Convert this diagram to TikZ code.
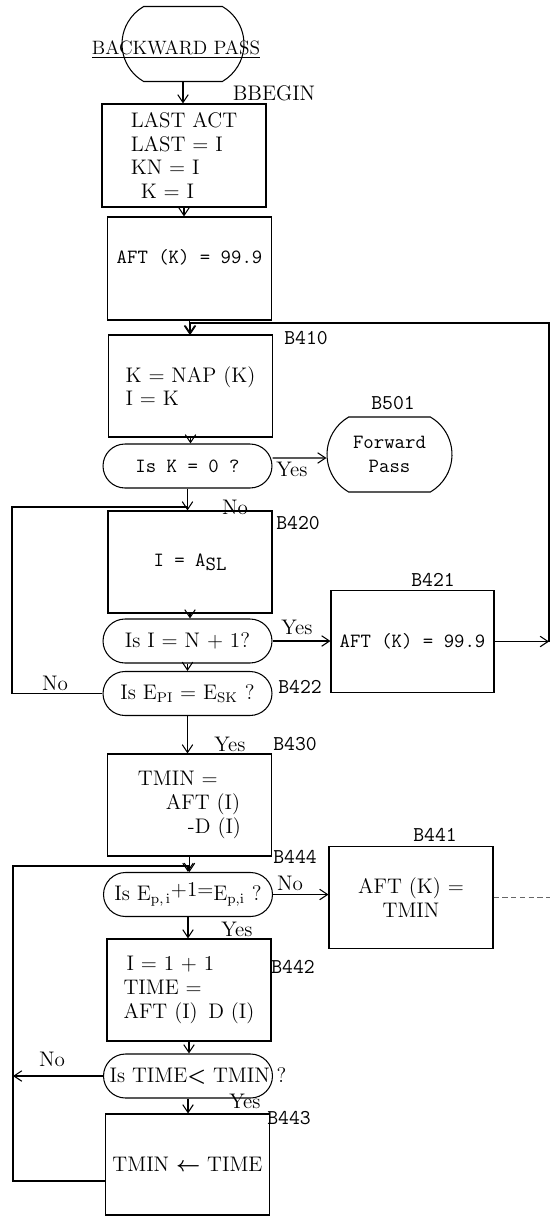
\documentclass[tikz,border=0pt]{standalone}
\usepackage{tikz}
\usepackage{amsmath}
\usetikzlibrary{positioning, calc, arrows.meta, shapes.misc}

\begin{document}
\begin{tikzpicture}[
  x=0.02cm, y=-0.02cm,
  font=\fontsize{12}{13.5}\selectfont,
  >={Straight Barb[length=4.5pt,width=6pt]},
  line width=0.6pt,
  procBox/.style={draw=black, rectangle, minimum width=3.28cm,
                  minimum height=2.04cm, inner sep=0pt},
  decBox/.style={draw=black, rectangle, rounded corners=0.44cm,
                 minimum width=3.38cm, minimum height=0.88cm, inner sep=0pt},
  termBox/.style={draw=black, rounded rectangle,
                  rounded rectangle arc length=120, inner sep=0pt},
  tagLbl/.style={font=\ttfamily\fontsize{12}{14}\selectfont, inner sep=0pt},
  ynLbl/.style={inner sep=0pt},
  codeTxt/.style={font=\ttfamily\fontsize{11.5}{14}\selectfont},
]
\useasboundingbox (0,0) rectangle (550,1217);

% ---------- start ----------
\node[termBox, minimum width=2.44cm, minimum height=1.5cm] (bpTerm) at (183,44) {};
\node[inner sep=0pt, font=\fontsize{11}{13}\selectfont] (bpTitle) at (176,50)
  {\underline{BACKWARD PASS}};

\node[procBox, minimum height=2.06cm, align=left] (bbeginBox) at (184,155.5)
  {LAST ACT\\LAST = I\\KN = I\\\hspace{0.2cm}K = I};
\node[ynLbl] (bbeginLbl) at (274,93) {BBEGIN};
\draw[->] (bpTerm.south) -- (bpTerm.south |- bbeginBox.north);

\node[procBox, minimum height=2.06cm, codeTxt] (aftBox) at (189.5,268.5)
  {\raisebox{0.23cm}[\height][\depth]{AFT (K) = 99.9}};
\draw[->] (bbeginBox.south) -- (bbeginBox.south |- aftBox.north);

% ---------- B410 ----------
\node[procBox, align=left] (b410Box) at (190.5,386) {K = NAP (K)\\I = K};
\node[tagLbl] (b410Lbl) at (306,338) {B410};
\draw[->] (aftBox.south) -- (aftBox.south |- b410Box.north);

\node[decBox, codeTxt] (k0Dec) at (187.5,466) {Is K = 0 ?};
\draw[->] (b410Box.south) -- (b410Box.south |- k0Dec.north);

% ---------- B501 ----------
\node[termBox, minimum width=2.5cm, minimum height=1.5cm, codeTxt, align=center]
  (fwdTerm) at (389.5,454.5) {Forward\\Pass};
\node[tagLbl] (b501Lbl) at (393,403) {B501};
\draw[->] ($(k0Dec.east)+(0,-8)$) -- ($(fwdTerm.west)+(0,3.5)$);
\node[ynLbl] (k0Yes) at (292,469) {Yes};

% ---------- B420 ----------
\node[procBox, codeTxt] (b420Box) at (190,562) {I = A\raisebox{-0.5ex}{SL}};
\node[tagLbl] (b420Lbl) at (298,523) {B420};
\draw[->] (k0Dec.south) -- (k0Dec.south |- b420Box.north);
\node[ynLbl] (k0No) at (235,507) {No};

\node[decBox] (n1Dec) at (187.5,641) {Is I = N + 1?};
\draw[->] (b420Box.south) -- (b420Box.south |- n1Dec.north);

% ---------- B421 ----------
\node[procBox, minimum width=3.26cm, codeTxt] (b421Box) at (412.5,641.5)
  {AFT (K) = 99.9};
\node[tagLbl] (b421Lbl) at (433,580) {B421};
\draw[->] (n1Dec.east) -- (n1Dec.east -| b421Box.west);
\node[ynLbl] (n1Yes) at (297,627) {Yes};

\coordinate (loopR) at (549,641.5);
\coordinate (loopTop) at (549,323);
\draw[->] (b421Box.east) -- (loopR);
\draw[->] (loopR) -- (loopTop) -| (b410Box.north);

% ---------- B422 ----------
\node[decBox] (epDec) at (187.5,693.5)
  {Is E$_{\mathrm{PI}}$ = E$_{\mathrm{SK}}$ ?};
\node[tagLbl] (b422Lbl) at (300,687) {B422};
\draw[->] (n1Dec.south) -- (epDec.north);

\coordinate (noL) at (12,507);
\draw (epDec.west) -| (noL) -- (noL -| k0Dec.south);
\node[ynLbl] (epNo) at (55,683) {No};

% ---------- B430 ----------
\node[procBox, align=left] (b430Box) at (189.5,805)
  {TMIN =\\\hspace{0.56cm}AFT (I)\\\hspace{1.0cm}-D (I)};
\node[tagLbl] (b430Lbl) at (295,744) {B430};
\draw[->] (epDec.south) -- (epDec.south |- b430Box.north);
\node[ynLbl] (epYes) at (230,744) {Yes};

% ---------- B444 ----------
\node[decBox, inner xsep=-0.3cm] (eqDec) at (188,894.5)
  {Is E$_{\mathrm{p,\,i}}$\raisebox{0.35ex}{+1=}E$_{\mathrm{p,i}}$ ?};
\node[tagLbl] (b444Lbl) at (295,857) {B444};
\draw[->] (b430Box.south) -- (b430Box.south |- eqDec.north);

% ---------- B441 ----------
\node[procBox, align=center] (b441Box) at (411,897.5) {AFT (K) =\\TMIN};
\node[tagLbl] (b441Lbl) at (435,835) {B441};
\draw[->] (eqDec.east) -- (eqDec.east -| b441Box.west);
\node[ynLbl] (eqNo) at (290,883) {No};
\coordinate (b441Out) at (550,897.5);
\draw[black!60, densely dashed, line width=0.4pt] (b441Box.east) -- (b441Out);

% ---------- B442 ----------
\node[procBox, align=left] (b442Box) at (189,990)
  {\hspace{0.06cm}I = 1 + 1\\TIME =\\AFT (I)\enspace D (I)};
\node[tagLbl] (b442Lbl) at (293,967) {B442};
\draw[->] (eqDec.south) -- (eqDec.south |- b442Box.north);
\node[ynLbl] (eqYes) at (237,929) {Yes};

\node[decBox, inner xsep=-0.3cm] (timeDec) at (188,1076)
  {\hspace{0.4cm}Is TIME$\boldsymbol{<}$ TMIN ?};
\draw[->] (b442Box.south) -- (b442Box.south |- timeDec.north);

% ---------- B443 ----------
\node[procBox, minimum height=2.02cm] (b443Box) at (187.5,1164.5)
  {TMIN $\boldsymbol{\leftarrow}$ TIME};
\node[tagLbl] (b443Lbl) at (289,1118) {B443};
\draw[->] (timeDec.south) -- (timeDec.south |- b443Box.north);
\node[ynLbl] (timeYes) at (245,1101) {Yes};

\coordinate (retL) at (13,1181);
\coordinate (retT) at (13,866);
\draw[->] (timeDec.west) -- (timeDec.west -| retL);
\node[ynLbl] (timeNo) at (52,1059) {No};
\draw[->] (b443Box.west |- retL) -- (retL) -- (retT) -| (eqDec.north);

\end{tikzpicture}
\end{document}
